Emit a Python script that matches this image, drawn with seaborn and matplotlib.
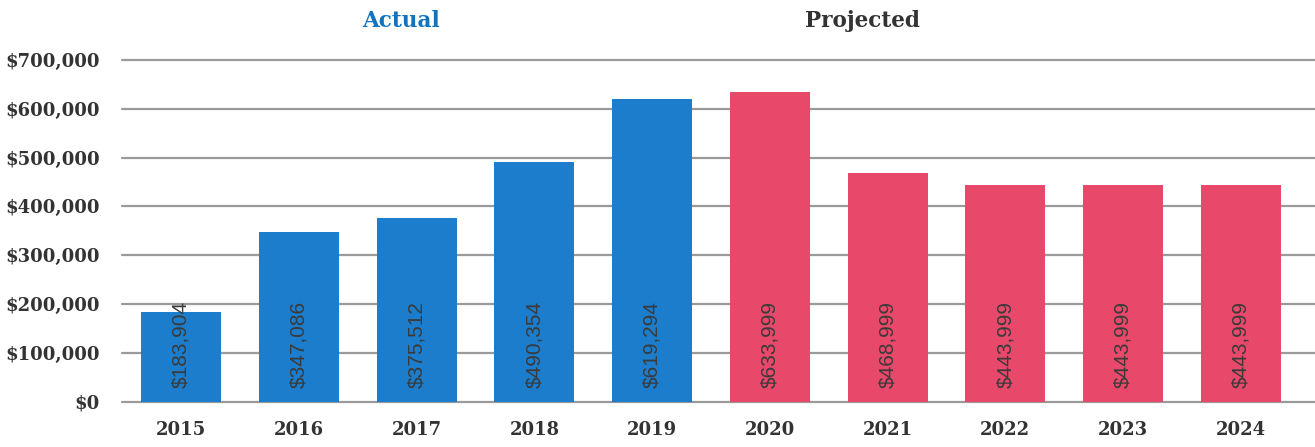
import pandas as pd
import matplotlib.pyplot as plt
import matplotlib.transforms as mtransforms
from matplotlib.ticker import FuncFormatter
import seaborn as sns

# chart values
years = ['2015', '2016', '2017', '2018', '2019', '2020', '2021', '2022', '2023', '2024']
amounts = [183904, 347086, 375512, 490354, 619294, 633999, 468999, 443999, 443999, 443999]
status = ['Actual'] * 5 + ['Projected'] * 5
bar_labels = ['$183,904', '$347,086', '$375,512', '$490,354', '$619,294',
              '$633,999', '$468,999', '$443,999', '$443,999', '$443,999']

df = pd.DataFrame({'year': years, 'amount': amounts, 'status': status})

sns.set_style('white')
plt.rcParams['font.family'] = ['DejaVu Serif']

fig = plt.figure(figsize=(13.15, 4.47), dpi=100)
ax = fig.add_axes([0.093, 0.101, 0.907, 0.765])

palette = {'Actual': '#1b7dcb', 'Projected': '#e84869'}
sns.barplot(data=df, x='year', y='amount', hue='status', palette=palette,
            dodge=False, width=0.68, saturation=1, legend=False, ax=ax,
            linewidth=0, zorder=3)

ax.set_ylim(0, 700000)
ax.set_xlim(-0.5, 9.63)
ax.set_yticks(range(0, 700001, 100000))
ax.yaxis.set_major_formatter(FuncFormatter(lambda v, p: f"${int(v):,}"))
ax.grid(axis='y', color='#9a9a9a', linewidth=1.6, zorder=0)
for gl in ax.get_ygridlines():
    gl.set_clip_on(False)
ax.set_axisbelow(True)
for s in ax.spines.values():
    s.set_visible(False)
ax.tick_params(axis='y', length=0, labelsize=13, colors='#333333', pad=16)
ax.tick_params(axis='x', length=0, labelsize=13, colors='#333333', pad=14)
for lbl in ax.get_xticklabels() + ax.get_yticklabels():
    lbl.set_fontweight('bold')
ax.set_xlabel('')
ax.set_ylabel('')

# value labels, rotated, near the bottom of each bar
for i, txt in enumerate(bar_labels):
    ax.text(i, 28000, txt, rotation=90, ha='center', va='bottom',
            fontsize=15, color='#3a3a3a', family='Liberation Sans', zorder=5)

# group titles
trans = mtransforms.blended_transform_factory(ax.transData, fig.transFigure)
ax.text(1.87, 0.953, 'Actual', transform=trans, ha='center', va='center',
        fontsize=15.5, fontweight='bold', color='#1172bd')
ax.text(5.79, 0.953, 'Projected', transform=trans, ha='center', va='center',
        fontsize=15.5, fontweight='bold', color='#333333')

fig.savefig('out.png', dpi=100)
